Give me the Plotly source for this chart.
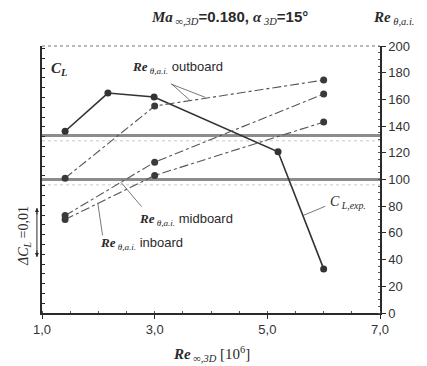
import plotly.graph_objects as go

# Free-stream Reynolds number [10^6]
re_inf = [1.41, 3.0, 6.0]
re_inf_cl = [1.41, 2.17, 2.99, 5.19, 6.0]

# Lift coefficient (left axis, no tick labels)
cl_exp = [0.7371, 0.7449, 0.7441, 0.7329, 0.7090]

# Momentum-thickness Reynolds number at attachment line (right axis)
re_theta_outboard = [101, 155, 174.5]
re_theta_midboard = [73, 113, 164]
re_theta_inboard = [70, 103, 143]

# Reference levels on the right axis
ref_levels = [133, 100]

x_ticks = [1, 3, 5, 7]
x_tick_text = ["1,0", "3,0", "5,0", "7,0"]
y2_ticks = list(range(0, 201, 20))

SERIF = "Liberation Serif"
SANS = "Liberation Sans"
INK = "#2a2a2a"

fig = go.Figure()

dash_style = dict(color="#555555", width=1.1, dash="dashdot")
marker_style = dict(symbol="circle", size=7, color="#3a3a3a")

for ys in (re_theta_outboard, re_theta_midboard, re_theta_inboard):
    fig.add_trace(go.Scatter(x=re_inf, y=ys, yaxis="y2", mode="lines+markers",
                             line=dash_style, marker=marker_style,
                             showlegend=False, hoverinfo="skip"))

fig.add_trace(go.Scatter(x=re_inf_cl, y=cl_exp, yaxis="y", mode="lines+markers",
                         line=dict(color="#333333", width=1.6),
                         marker=dict(symbol="circle", size=7, color="#333333"),
                         showlegend=False, hoverinfo="skip"))

# Horizontal reference bands
for lv in ref_levels:
    fig.add_shape(type="line", xref="paper", x0=0, x1=1, yref="y2", y0=lv, y1=lv,
                  line=dict(color="#8c8c8c", width=3), layer="below")
    fig.add_shape(type="line", xref="paper", x0=0, x1=1, yref="y2", y0=lv - 4, y1=lv - 4,
                  line=dict(color="#bbbbbb", width=0.8, dash="dot"), layer="below")

# Top frame (light dotted)
fig.add_shape(type="line", xref="paper", yref="paper", x0=0, x1=1, y0=1, y1=1,
              line=dict(color="#777777", width=1, dash="dot"))

# Delta C_L scale bar
fig.add_shape(type="line", xref="paper", x0=-0.015, x1=-0.015, yref="y",
              y0=0.71143, y1=0.72143, line=dict(color=INK, width=1))
for y_tip, dy in ((0.72143, 8), (0.71143, -8)):
    fig.add_annotation(xref="paper", yref="y", x=-0.015, y=y_tip, ax=0, ay=dy,
                       axref="pixel", ayref="pixel", showarrow=True, arrowhead=2,
                       arrowsize=0.8, arrowwidth=1, arrowcolor=INK, text="")


def rich(txt, x, y, size=13, xanchor="left", yanchor="middle"):
    fig.add_annotation(text=txt, x=x, y=y, xref="paper", yref="paper", showarrow=False,
                       xanchor=xanchor, yanchor=yanchor,
                       font=dict(family=SERIF, size=size, color=INK))


def re_theta(suffix=""):
    return "<b><i>Re</i></b><sub><i> θ,a.i.</i></sub>" + suffix


# Title and right-axis label
rich(("<b><i>Ma</i></b><sub><i> ∞,3D</i></sub>"
      f"<span style='font-family:{SANS}'><b>=0.180, </b></span>"
      "<b><i>α</i></b><sub><i> 3D</i></sub>"
      f"<span style='font-family:{SANS}'><b>=15°</b></span>"),
     0.555, 1.105, size=15, xanchor="center")
rich(re_theta(), 1.04, 1.105, size=15, xanchor="center")

# C_L label
rich("<b><i>C</i></b><sub><b><i>L</i></b></sub>", 0.02, 0.915, size=15)

# Series labels
rich(re_theta(f"<span style='font-family:{SANS}'> outboard</span>"), 0.26, 0.92)
rich(re_theta(f"<span style='font-family:{SANS}'> midboard</span>"), 0.28, 0.35)
rich(re_theta(f"<span style='font-family:{SANS}'> inboard</span>"), 0.165, 0.26)
rich("<i>C</i><sub><i> L,exp.</i></sub>", 0.845, 0.415, size=14)

# Delta C_L label (vertical)
fig.add_annotation(text="<i>ΔC</i><sub><i>L</i></sub> =0,01", xref="paper", yref="paper",
                   x=-0.052, y=0.29, xanchor="center", yanchor="middle",
                   showarrow=False, textangle=-90,
                   font=dict(family=SERIF, size=14, color=INK))


# Leader lines
def leader(x_tip, y_tip, ax_px, ay_px, yref):
    fig.add_annotation(x=x_tip, y=y_tip, xref="x", yref=yref, ax=ax_px, ay=ay_px,
                       showarrow=True, arrowhead=0, arrowwidth=0.8, arrowcolor="#555555",
                       text="")


leader(3.63, 159.1, -20, -18, "y2")
leader(3.9, 161.5, -36, -14, "y2")
leader(2.4, 98, 22, 26, "y2")
leader(1.99, 82.5, 5, 34, "y2")
leader(5.63, 0.70 + (313 - 215.6) / 4900, 24, -10, "y")

# Axis title
rich("<b><i>Re</i></b><sub><i> ∞,3D</i></sub> [10<sup>6</sup>]", 0.5, -0.155, size=15,
     xanchor="center")

fig.update_layout(
    width=427, height=366,
    margin=dict(l=42, r=47, t=46, b=53),
    paper_bgcolor="white", plot_bgcolor="white",
    showlegend=False,
    xaxis=dict(range=[1, 7], tickvals=x_ticks, ticktext=x_tick_text, showgrid=False,
               zeroline=False, showline=True, linecolor=INK, linewidth=1.5,
               ticks="outside", ticklen=4, tickcolor=INK,
               minor=dict(dtick=0.5, ticks="inside", ticklen=2, tickcolor="#555555"),
               tickfont=dict(family=SANS, size=13, color="#333333")),
    yaxis=dict(range=[0.70, 0.7545], showticklabels=False, showgrid=False, zeroline=False,
               showline=True, linecolor=INK, linewidth=1.5, ticks="inside", ticklen=3,
               tickcolor=INK, dtick=0.002, tick0=0.70),
    yaxis2=dict(range=[0, 200], overlaying="y", side="right", tickvals=y2_ticks,
                showgrid=False, zeroline=False, showline=True, linecolor=INK,
                linewidth=1.5, ticks="outside", ticklen=4, tickcolor=INK,
                minor=dict(dtick=5, ticks="inside", ticklen=2, tickcolor="#555555"),
                tickfont=dict(family=SANS, size=13, color="#333333")),
)

fig.write_html("out.html")
